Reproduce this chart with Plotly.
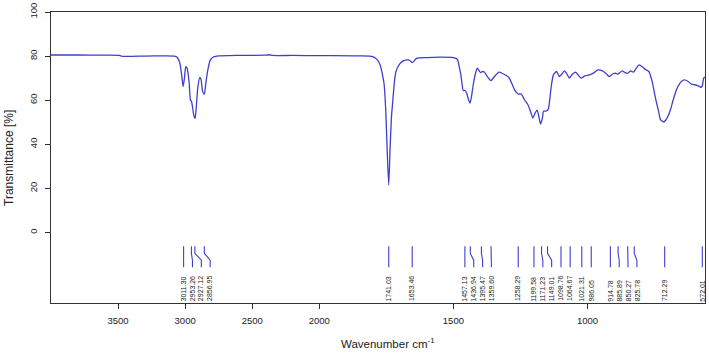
import plotly.graph_objects as go

# ---- data ----
wavenumber = [4000, 3800, 3600, 3490, 3470, 3300, 3150, 3080, 3060, 3040, 3025, 3015, 3005, 2995, 2985,
              2970, 2960, 2953, 2945, 2935, 2926, 2918, 2905, 2890, 2880, 2870, 2857, 2845, 2830, 2813,
              2790, 2763, 2600, 2400, 2370, 2350, 2200, 2000, 1850, 1800, 1785, 1773, 1765, 1758, 1752,
              1747, 1741, 1736, 1731, 1726, 1720, 1714, 1700, 1687, 1668, 1660, 1653, 1645, 1637, 1600,
              1548, 1500, 1485, 1478, 1472, 1463, 1457, 1450, 1443, 1438, 1432, 1426, 1418, 1411, 1405,
              1398, 1392, 1385, 1372, 1360, 1345, 1330, 1315, 1303, 1293, 1280, 1272, 1259, 1247, 1235,
              1222, 1210, 1204, 1196, 1188, 1182, 1175, 1168, 1164, 1156, 1147, 1141, 1136, 1127, 1115,
              1105, 1098, 1086, 1075, 1068, 1058, 1045, 1035, 1024, 1010, 993, 975, 962, 944, 930,
              919, 905, 894, 888, 880, 870, 860, 851, 845, 839, 829, 818, 808, 796, 785,
              771, 765, 759, 750, 744, 735, 728, 716, 708, 700, 690, 682, 672, 663, 650,
              638, 625, 613, 600, 592, 580, 577, 572, 567, 562]
transmittance = [80.5, 80.5, 80.4, 80.3, 79.9, 80.0, 80.1, 80.0, 79.5, 77, 71, 66.2, 70, 75.2, 74.5,
                 68, 60, 59.5, 57, 53, 51.7, 56, 66, 70.3, 69, 64, 62.8, 68, 74, 78.2,
                 79.6, 80.0, 80.3, 80.4, 80.6, 80.3, 80.3, 80.2, 80.1, 79.8, 78.5, 76, 72, 67, 55,
                 38, 21.5, 38, 52, 59.5, 68, 73, 76.5, 77.8, 78.3, 77.8, 77, 78, 79, 79.3,
                 79.5, 79.3, 78.5, 75, 71.5, 64.3, 64.5, 63, 60, 58.7, 62, 67, 72, 74.5, 73.5,
                 72.5, 73, 72.8, 70.5, 68.9, 71, 72.7, 72, 71.2, 70.3, 67, 64.7, 62.8, 62.8, 60.2,
                 57.9, 54, 51.9, 54, 55.5, 53, 49.2, 52, 55, 55, 55.7, 60, 65.5, 71.5, 73,
                 70.7, 71.5, 73.3, 71.5, 70, 71.5, 72.7, 71.5, 70, 71, 71.5, 72.5, 73.7, 73.3, 72,
                 70.7, 72, 72.2, 71.8, 72.5, 73.3, 72.5, 72.2, 72.8, 73.3, 72.7, 74.5, 76, 75.2, 74,
                 73, 71, 68.5, 63, 59.5, 55, 51.2, 50.1, 51, 52.7, 56, 59.5, 63.5, 66.2, 68.5,
                 69.2, 68.5, 67.3, 67, 66.7, 66, 65.8, 66.5, 70, 70.5]

peak_labels = ["3011.30", "2953.26", "2927.12", "2856.95", "1741.03", "1653.46", "1457.13", "1436.94",
               "1395.47", "1359.60", "1258.29", "1199.58", "1171.23", "1149.01", "1098.76", "1064.67",
               "1021.31", "986.05", "914.78", "885.89", "850.27", "825.78", "712.29", "572.01"]
peak_positions = [float(s) for s in peak_labels]

x_tick_values = [3500, 3000, 2500, 2000, 1500, 1000]
y_tick_values = [0, 20, 40, 60, 80, 100]

# ---- axis scale: FTIR convention, doubled scale below 2000 cm-1 ----
W_MAX, W_BREAK, W_MIN = 4000, 2000, 562


def xt(w):
    if w >= W_BREAK:
        return W_MAX - w
    return (W_MAX - W_BREAK) + 2 * (W_BREAK - w)


LINE = "#3f3fcc"
fig = go.Figure()
fig.add_trace(go.Scatter(x=[xt(w) for w in wavenumber], y=transmittance, mode="lines",
                         line=dict(color=LINE, width=1.3, shape="spline", smoothing=0.6),
                         hoverinfo="skip", showlegend=False))

# peak marker lines with label de-overlap (push right)
GAP = 66
px = [xt(p) for p in peak_positions]
lab = []
for i, p in enumerate(px):
    if i == 0:
        lab.append(p)
    else:
        lab.append(max(p, lab[-1] + GAP))

mx, my = [], []
for p, l in zip(px, lab):
    mx += [p, p, l, l, None]
    my += [-6.3, -9.5, -12.6, -15.8, None]
fig.add_trace(go.Scatter(x=mx, y=my, mode="lines", line=dict(color=LINE, width=1.1),
                         hoverinfo="skip", showlegend=False))

for l, t in zip(lab, peak_labels):
    fig.add_annotation(x=l, y=-31.7, xref="x", yref="y", text=t, showarrow=False,
                       textangle=-90, xanchor="center", yanchor="bottom",
                       font=dict(size=7, color="#222222", family="Liberation Sans"),
                       borderpad=0)

fig.add_annotation(x=-0.065, y=0.5, xref="paper", yref="paper", text="Transmittance [%]",
                   textangle=-90, showarrow=False, xanchor="center", yanchor="middle",
                   font=dict(size=12, color="#222222", family="Liberation Sans"))
fig.add_annotation(x=0.515, y=-0.108, xref="paper", yref="paper", text="Wavenumber cm<sup>-1</sup>",
                   showarrow=False, xanchor="center", yanchor="top",
                   font=dict(size=11.5, color="#222222", family="Liberation Sans"))

fig.update_xaxes(range=[0, xt(W_MIN)], tickvals=[xt(v) for v in x_tick_values],
                 ticktext=[str(v) for v in x_tick_values], ticks="outside", ticklen=5,
                 tickcolor="#333333", showline=True, linecolor="#333333", linewidth=1, mirror=True,
                 showgrid=False, zeroline=False, tickfont=dict(size=9.5, color="#222222",
                 family="Liberation Sans"), ticklabelstandoff=4)
fig.update_yaxes(range=[-32, 100], tickvals=y_tick_values, ticks="outside", ticklen=5,
                 tickcolor="#333333", showline=True, linecolor="#333333", linewidth=1, mirror=True,
                 showgrid=False, zeroline=False, tickangle=-90,
                 tickfont=dict(size=9.5, color="#222222", family="Liberation Sans"),
                 ticklabelstandoff=4)

fig.update_layout(width=709, height=354, margin=dict(l=51, r=3, t=10, b=51),
                  paper_bgcolor="white", plot_bgcolor="white", showlegend=False)

fig.write_html("out.html")
